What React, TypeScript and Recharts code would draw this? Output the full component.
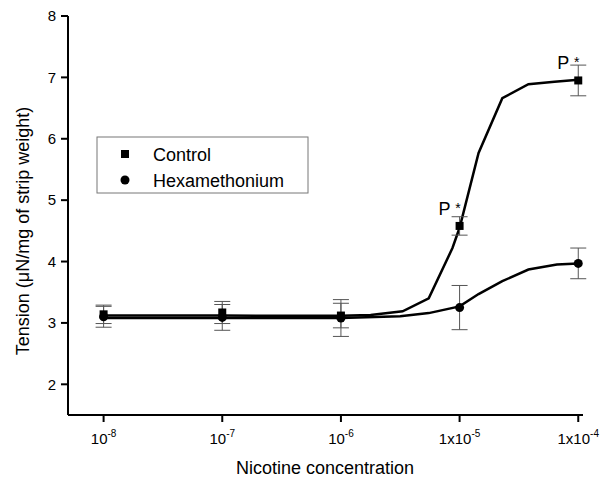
import React from "react";
import {
  ComposedChart,
  Line,
  Scatter,
  ErrorBar,
  XAxis,
  YAxis,
  Customized,
} from "recharts";

// log10 of nicotine concentration (M)
const doseExp = [-8, -7, -6, -5, -4];

const controlMean = [3.14, 3.17, 3.12, 4.58, 6.95];
const controlSem = [0.15, 0.18, 0.2, 0.15, 0.25];
const hexaMean = [3.1, 3.09, 3.08, 3.25, 3.97];
const hexaSem = [0.17, 0.21, 0.3, 0.36, 0.25];
const controlSig = ["", "", "", "P *", "P *"];

// fitted curves
const controlFitX = [-8, -7, -6, -5.75, -5.48, -5.26, -5.06, -5.0, -4.84, -4.64, -4.42, -4.2, -4.0];
const controlFitY = [3.12, 3.12, 3.115, 3.13, 3.19, 3.4, 4.22, 4.55, 5.77, 6.66, 6.89, 6.93, 6.96];
const hexaFitX = [-8, -7, -6, -5.5, -5.26, -5.0, -4.84, -4.64, -4.42, -4.18, -4.0];
const hexaFitY = [3.08, 3.08, 3.08, 3.11, 3.16, 3.27, 3.47, 3.68, 3.87, 3.95, 3.97];

const xTicks = [-8, -7, -6, -5, -4];
const xTickBase = ["10", "10", "10", "1x10", "1x10"];
const xTickSup = ["-8", "-7", "-6", "-5", "-4"];
const yTicks = [2, 3, 4, 5, 6, 7, 8];

const FONT = "'Liberation Sans', Arial, sans-serif";

const controlPts = doseExp.map((x, i) => ({
  x,
  y: controlMean[i],
  err: controlSem[i],
  sig: controlSig[i],
}));
const hexaPts = doseExp.map((x, i) => ({ x, y: hexaMean[i], err: hexaSem[i] }));
const controlFit = controlFitX.map((x, i) => ({ x, y: controlFitY[i] }));
const hexaFit = hexaFitX.map((x, i) => ({ x, y: hexaFitY[i] }));

const XTick = (props: any) => {
  const { x, y, payload } = props;
  const i = xTicks.indexOf(payload.value);
  return (
    <text x={x} y={y + 14} textAnchor="middle" fontFamily={FONT} fontSize={15} fill="#000">
      <tspan>{xTickBase[i]}</tspan>
      <tspan dy={-7} fontSize={10}>
        {xTickSup[i]}
      </tspan>
    </text>
  );
};

const SquareDot = (props: any) => {
  const { cx, cy, payload } = props;
  return (
    <g>
      <rect x={cx - 4} y={cy - 4} width={8} height={8} fill="#000" />
      {payload.sig ? (
        <text x={cx - 21} y={cy - 11} fontFamily={FONT} fontSize={18} fill="#000">
          <tspan>P </tspan>
          <tspan fontSize={14} dy={-2}>
            *
          </tspan>
        </text>
      ) : null}
    </g>
  );
};

const CircleDot = (props: any) => {
  const { cx, cy } = props;
  return <circle cx={cx} cy={cy} r={4.5} fill="#000" />;
};

const Decor = () => (
  <g fontFamily={FONT} fill="#000">
    <text
      x={0}
      y={0}
      transform="translate(29 231) rotate(-90)"
      textAnchor="middle"
      fontSize={18}
    >
      Tension (μN/mg of strip weight)
    </text>
    <text x={325} y={474} textAnchor="middle" fontSize={18}>
      Nicotine concentration
    </text>
    <rect x={97} y={137} width={211} height={56} fill="#fff" stroke="#777" strokeWidth={1} />
    <rect x={121} y={150} width={8} height={8} fill="#000" />
    <circle cx={125} cy={180} r={4.5} fill="#000" />
    <text x={153} y={161} fontSize={18}>
      Control
    </text>
    <text x={153} y={187} fontSize={18}>
      Hexamethonium
    </text>
  </g>
);

export default function App() {
  return (
    <div style={{ position: "absolute", left: 0, top: 0, background: "#fff" }}>
      <ComposedChart
        width={605}
        height={479}
        margin={{ top: 16, right: 22, left: 0, bottom: 0 }}
      >
        <XAxis
          type="number"
          dataKey="x"
          domain={[-8.3, -3.96]}
          ticks={xTicks}
          allowDataOverflow
          height={64}
          tickSize={7}
          tickMargin={8}
          axisLine={{ stroke: "#000", strokeWidth: 2 }}
          tickLine={{ stroke: "#000", strokeWidth: 2 }}
          tick={<XTick />}
        />
        <YAxis
          type="number"
          domain={[1.5, 8]}
          ticks={yTicks}
          allowDataOverflow
          width={68}
          tickSize={7}
          tickMargin={5}
          axisLine={{ stroke: "#000", strokeWidth: 2 }}
          tickLine={{ stroke: "#000", strokeWidth: 2 }}
          tick={{ fontSize: 15, fill: "#000", fontFamily: FONT }}
        />
        <Line
          data={controlFit}
          dataKey="y"
          type="linear"
          stroke="#000"
          strokeWidth={2.5}
          dot={false}
          isAnimationActive={false}
        />
        <Line
          data={hexaFit}
          dataKey="y"
          type="linear"
          stroke="#000"
          strokeWidth={2.5}
          dot={false}
          isAnimationActive={false}
        />
        <Scatter data={hexaPts} dataKey="y" shape={<CircleDot />} isAnimationActive={false}>
          <ErrorBar dataKey="err" direction="y" width={8} stroke="#555" strokeWidth={1} />
        </Scatter>
        <Scatter data={controlPts} dataKey="y" shape={<SquareDot />} isAnimationActive={false}>
          <ErrorBar dataKey="err" direction="y" width={8} stroke="#555" strokeWidth={1} />
        </Scatter>
        <Customized component={Decor} />
      </ComposedChart>
    </div>
  );
}
